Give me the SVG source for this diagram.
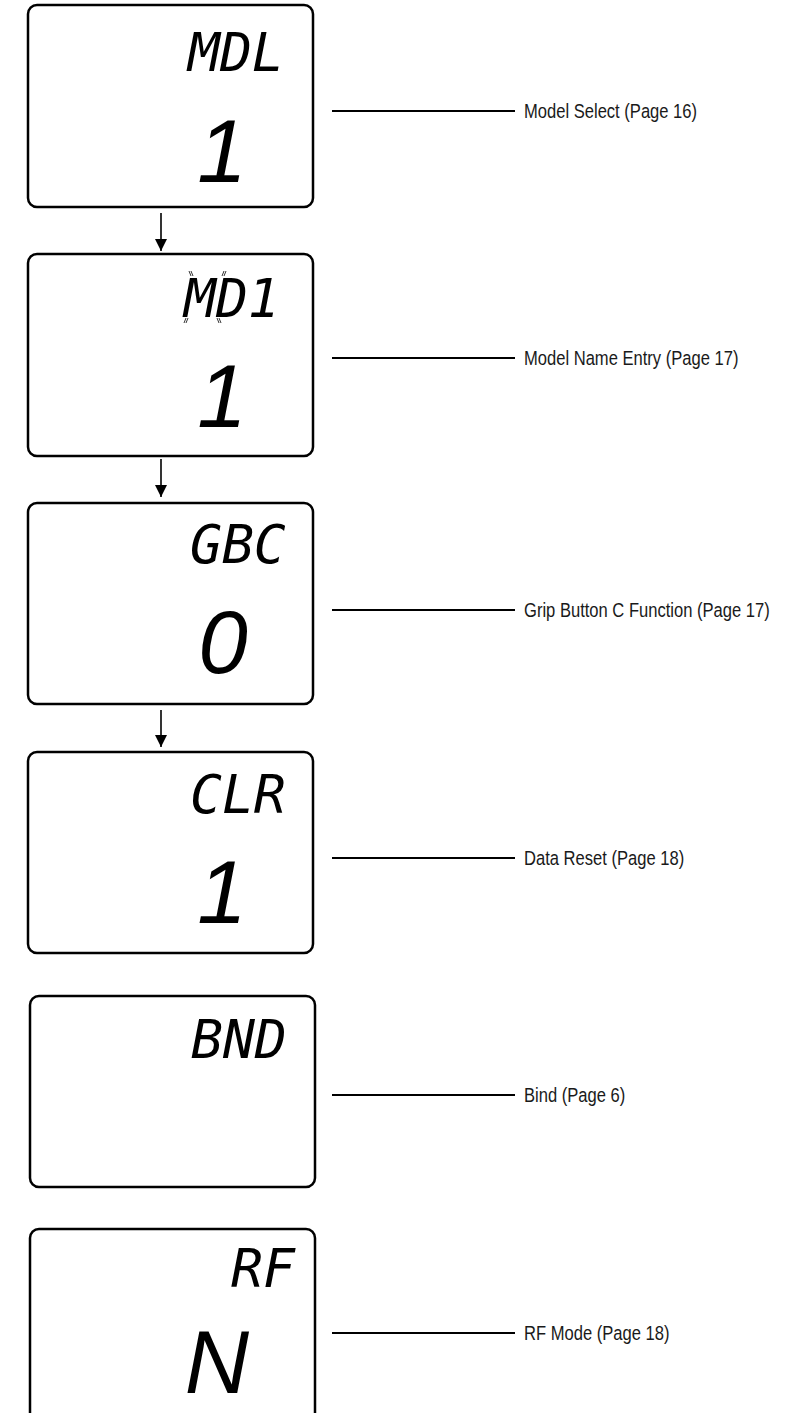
<svg xmlns="http://www.w3.org/2000/svg" width="797" height="1413" viewBox="0 0 797 1413">
<defs>
<style>
.box{fill:#fff;stroke:#000;stroke-width:2.5}
.lcd{font-family:"DejaVu Sans Mono","Liberation Mono",monospace;font-style:oblique;fill:#000}
.small{font-size:53px}
.big{font-family:"Liberation Sans",Arial,sans-serif;font-style:italic;font-size:89px;text-anchor:middle}
.lead{stroke:#000;stroke-width:2;fill:none}
.arr{stroke:#000;stroke-width:1.6;fill:none}
.lbl{font-family:"Liberation Sans",Arial,sans-serif;font-size:19.5px;fill:#1a1a1a}
.tick{stroke:#000;stroke-width:0.8}
</style>
<marker id="ah" viewBox="0 0 12 14" refX="12" refY="7" markerWidth="12" markerHeight="14" markerUnits="userSpaceOnUse" orient="auto">
<path d="M0,1 L12,7 L0,13 Z" fill="#000"/>
</marker>
</defs>
<rect width="797" height="1413" fill="#fff"/>

<g id="node-mdl">
<rect class="box" x="28" y="5" width="285" height="202" rx="9"/>
<text class="lcd small" x="188" y="71">MDL</text>
<text class="lcd big" x="222" y="182">1</text>
</g>

<g id="node-md1">
<rect class="box" x="28" y="254" width="285" height="202" rx="9"/>
<text class="lcd small" x="184" y="317">MD1</text>
<text class="lcd big" x="222" y="427">1</text>
<g class="tick">
<line x1="189" y1="271" x2="191" y2="276"/><line x1="191" y1="271" x2="193" y2="276"/>
<line x1="224" y1="271" x2="222" y2="276"/><line x1="226" y1="271" x2="224" y2="276"/>
<line x1="186" y1="318" x2="184" y2="323"/><line x1="188" y1="318" x2="186" y2="323"/>
<line x1="217" y1="318" x2="219" y2="323"/><line x1="219" y1="318" x2="221" y2="323"/>
</g>
</g>

<g id="node-gbc">
<rect class="box" x="28" y="503" width="285" height="201" rx="9"/>
<text class="lcd small" x="190" y="563">GBC</text>
<text class="lcd big" x="223" y="673">0</text>
</g>

<g id="node-clr">
<rect class="box" x="28" y="752" width="285" height="201" rx="9"/>
<text class="lcd small" x="190" y="813">CLR</text>
<text class="lcd big" x="222" y="923">1</text>
</g>

<g id="node-bnd">
<rect class="box" x="30" y="996" width="285" height="191" rx="9"/>
<text class="lcd small" x="191" y="1058">BND</text>
</g>

<g id="node-rf">
<rect class="box" x="30" y="1229" width="285" height="200" rx="9"/>
<text class="lcd small" x="231" y="1287">RF</text>
<text class="lcd big" x="217" y="1393">N</text>
</g>

<g id="connectors">
<line class="arr" x1="161" y1="213" x2="161" y2="251" marker-end="url(#ah)"/>
<line class="arr" x1="161" y1="459" x2="161" y2="497" marker-end="url(#ah)"/>
<line class="arr" x1="161" y1="710" x2="161" y2="747" marker-end="url(#ah)"/>
<line class="lead" x1="332" y1="111" x2="515" y2="111"/>
<line class="lead" x1="332" y1="358" x2="515" y2="358"/>
<line class="lead" x1="332" y1="610" x2="515" y2="610"/>
<line class="lead" x1="332" y1="858" x2="515" y2="858"/>
<line class="lead" x1="332" y1="1095" x2="515" y2="1095"/>
<line class="lead" x1="332" y1="1333" x2="515" y2="1333"/>
</g>

<g id="labels">
<text class="lbl" transform="translate(524,118) scale(0.85,1)">Model Select (Page 16)</text>
<text class="lbl" transform="translate(524,365) scale(0.85,1)">Model Name Entry (Page 17)</text>
<text class="lbl" transform="translate(524,617) scale(0.85,1)">Grip Button C Function (Page 17)</text>
<text class="lbl" transform="translate(524,865) scale(0.85,1)">Data Reset (Page 18)</text>
<text class="lbl" transform="translate(524,1102) scale(0.85,1)">Bind (Page 6)</text>
<text class="lbl" transform="translate(524,1340) scale(0.85,1)">RF Mode (Page 18)</text>
</g>
</svg>
